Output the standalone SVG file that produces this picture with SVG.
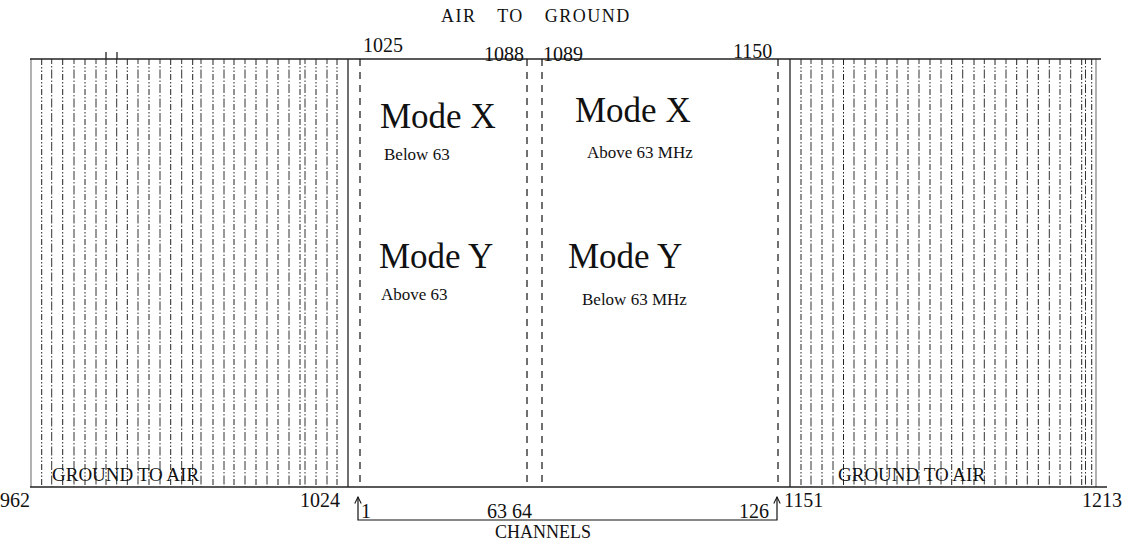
<svg xmlns="http://www.w3.org/2000/svg" width="1127" height="544" viewBox="0 0 1127 544">
<style>
.t{font-family:"Liberation Serif","Times New Roman",serif;fill:#111}
.num{font-size:20px}
.mode{font-size:35px}
.sub{font-size:17px}
.hdr{font-size:18px}
.gta{font-size:19px}
.hatch{stroke:#222;stroke-width:1;fill:none;stroke-dasharray:6 2 1.5 2 1.5 2}
.hatch2{stroke:#333;stroke-width:1;fill:none;stroke-dasharray:9 2 1.5 2;stroke-dashoffset:4}
.dash{stroke:#111;stroke-width:1.2;fill:none;stroke-dasharray:7 6}
.solid{stroke:#222;stroke-width:1.3;fill:none}
.edge{stroke:#888;stroke-width:1.3;fill:none}
.conn{stroke:#111;stroke-width:1.2;fill:none}
</style>
<defs>
<marker id="up" viewBox="0 0 10 10" refX="9" refY="5" markerWidth="8" markerHeight="8" markerUnits="userSpaceOnUse" orient="auto-start-reverse">
<path d="M1,1 L9,5 L1,9" fill="none" stroke="#111" stroke-width="1.3"/>
</marker>
</defs>
<rect width="1127" height="544" fill="#fff"/>

<g id="band-ground-to-air-left">
<path class="hatch" d="M41.7,59V487M62.7,59V487M85,59V487M106,59V487M127.3,59V487M149,59V487M170.7,59V487M192.7,59V487M213,59V487M234,59V487M256,59V487M278,59V487M300,59V487M316,59V487M337,59V487"/>
<path class="hatch2" d="M51.7,59V487M74,59V487M96,59V487M116.7,59V487M138,59V487M160,59V487M181.7,59V487M201,59V487M224,59V487M245,59V487M267,59V487M289,59V487M305,59V487M327,59V487"/>
<path class="conn" d="M106,52V59M117,52V59"/>
<path class="edge" d="M31,59V487"/>
<path class="solid" d="M348,59V487"/>
<text class="t gta" x="52" y="481">GROUND TO AIR</text>
</g>

<g id="band-ground-to-air-right">
<path class="hatch" d="M801,59V487M822,59V487M843.5,59V487M865,59V487M887,59V487M908,59V487M930,59V487M951.7,59V487M974,59V487M995,59V487M1016.7,59V487M1038.3,59V487M1060,59V487M1081.7,59V487M1091.7,59V487"/>
<path class="hatch2" d="M811,59V487M833,59V487M854,59V487M876,59V487M897,59V487M919,59V487M941,59V487M962.7,59V487M984.3,59V487M1006,59V487M1027.3,59V487M1049.3,59V487M1070.7,59V487M1085.5,59V487"/>
<path class="solid" d="M790,59V487"/>
<path class="edge" d="M1096,59V487"/>
<text class="t gta" x="838" y="481">GROUND TO AIR</text>
</g>

<g id="frame">
<path class="solid" d="M30,59H1101"/>
<path class="solid" d="M30,487H1107"/>
</g>

<g id="band-air-to-ground">
<text class="t hdr" x="441" y="22" letter-spacing="1.5" word-spacing="15">AIR TO GROUND</text>
<path class="dash" d="M360,59V487"/>
<path class="dash" d="M527,59V487"/>
<path class="dash" d="M542,59V487"/>
<path class="dash" d="M778,59V487"/>
<text class="t num" x="363" y="52">1025</text>
<text class="t num" x="484" y="61">1088</text>
<text class="t num" x="543" y="61">1089</text>
<text class="t num" x="733" y="58">1150</text>
</g>

<g id="mode-low">
<text class="t mode" x="380" y="128">Mode X</text>
<text class="t sub" x="384" y="160">Below 63</text>
<text class="t mode" x="379" y="268">Mode Y</text>
<text class="t sub" x="381" y="300">Above 63</text>
</g>

<g id="mode-high">
<text class="t mode" x="575" y="122">Mode X</text>
<text class="t sub" x="587" y="158">Above 63 MHz</text>
<text class="t mode" x="568" y="268">Mode Y</text>
<text class="t sub" x="582" y="305">Below 63 MHz</text>
</g>

<g id="freq-labels">
<text class="t num" x="0" y="507">962</text>
<text class="t num" x="300" y="507">1024</text>
<text class="t num" x="784" y="507">1151</text>
<text class="t num" x="1082" y="507">1213</text>
</g>

<g id="connectors">
<path class="conn" d="M358,497V520H777V497" marker-start="url(#up)" marker-end="url(#up)"/>
</g>

<g id="channels">
<text class="t num" x="361" y="518">1</text>
<text class="t num" x="487" y="518">63 64</text>
<text class="t num" x="739" y="518">126</text>
<text class="t hdr" x="543" y="538" text-anchor="middle">CHANNELS</text>
</g>
</svg>
